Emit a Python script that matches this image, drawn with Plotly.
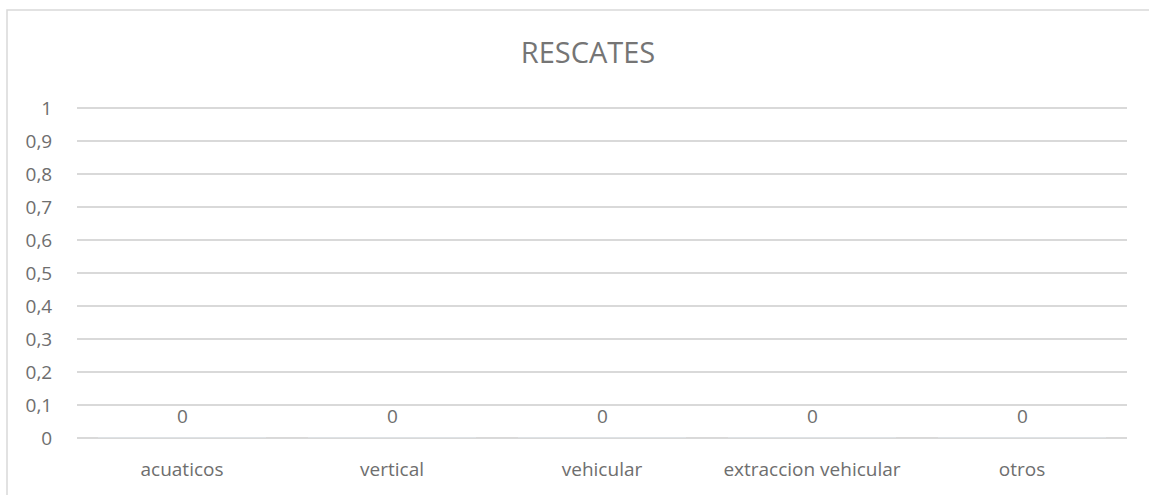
import plotly.graph_objects as go

categories = ["acuaticos", "vertical", "vehicular", "extraccion vehicular", "otros"]
values = [0, 0, 0, 0, 0]
y_ticks = [0, 0.1, 0.2, 0.3, 0.4, 0.5, 0.6, 0.7, 0.8, 0.9, 1]
y_tick_labels = ["0", "0,1", "0,2", "0,3", "0,4", "0,5", "0,6", "0,7", "0,8", "0,9", "1"]

FONT = "Open Sans, Liberation Sans, sans-serif"
GRAY = "#6e6e6e"

fig = go.Figure()
fig.add_trace(go.Bar(x=categories, y=values, marker_color="#4472C4", showlegend=False,
                     hoverinfo="x+y"))

for c, v in zip(categories, values):
    fig.add_annotation(x=c, y=v, text=str(v), showarrow=False, yshift=22,
                       font=dict(family=FONT, size=19, color=GRAY))

fig.update_layout(
    width=1149, height=495,
    margin=dict(l=77, r=22, t=105, b=57),
    paper_bgcolor="white", plot_bgcolor="white",
    separators=",.",
    title=dict(text="RESCATES", x=588 / 1149, xref="container", xanchor="center",
               y=1 - 53 / 495, yref="container", yanchor="middle",
               font=dict(family=FONT, size=29, color="#757575")),
    font=dict(family=FONT, size=19, color=GRAY),
    xaxis=dict(showgrid=False, showline=False, zeroline=False,
               tickfont=dict(family=FONT, size=19, color=GRAY),
               ticks="outside", ticklen=14, tickcolor="rgba(0,0,0,0)"),
    yaxis=dict(range=[0, 1.01], tickvals=y_ticks, ticktext=y_tick_labels,
               showgrid=True, gridcolor="#d9d9d9", gridwidth=1.5,
               zeroline=True, zerolinecolor="#d9d9d9", zerolinewidth=1.5,
               showline=False, ticks="outside", ticklen=20, tickcolor="rgba(0,0,0,0)",
               tickfont=dict(family=FONT, size=19, color=GRAY)),
    shapes=[dict(type="rect", xref="paper", yref="paper",
                 x0=(7 - 77) / 1050, x1=1.2, y0=-0.5, y1=(438 - 10) / 333,
                 line=dict(color="#d9d9d9", width=1.5), fillcolor="rgba(0,0,0,0)",
                 layer="below")],
)

fig.write_html("out.html", config={"displayModeBar": False},
               post_script="document.body.style.margin='0';")
